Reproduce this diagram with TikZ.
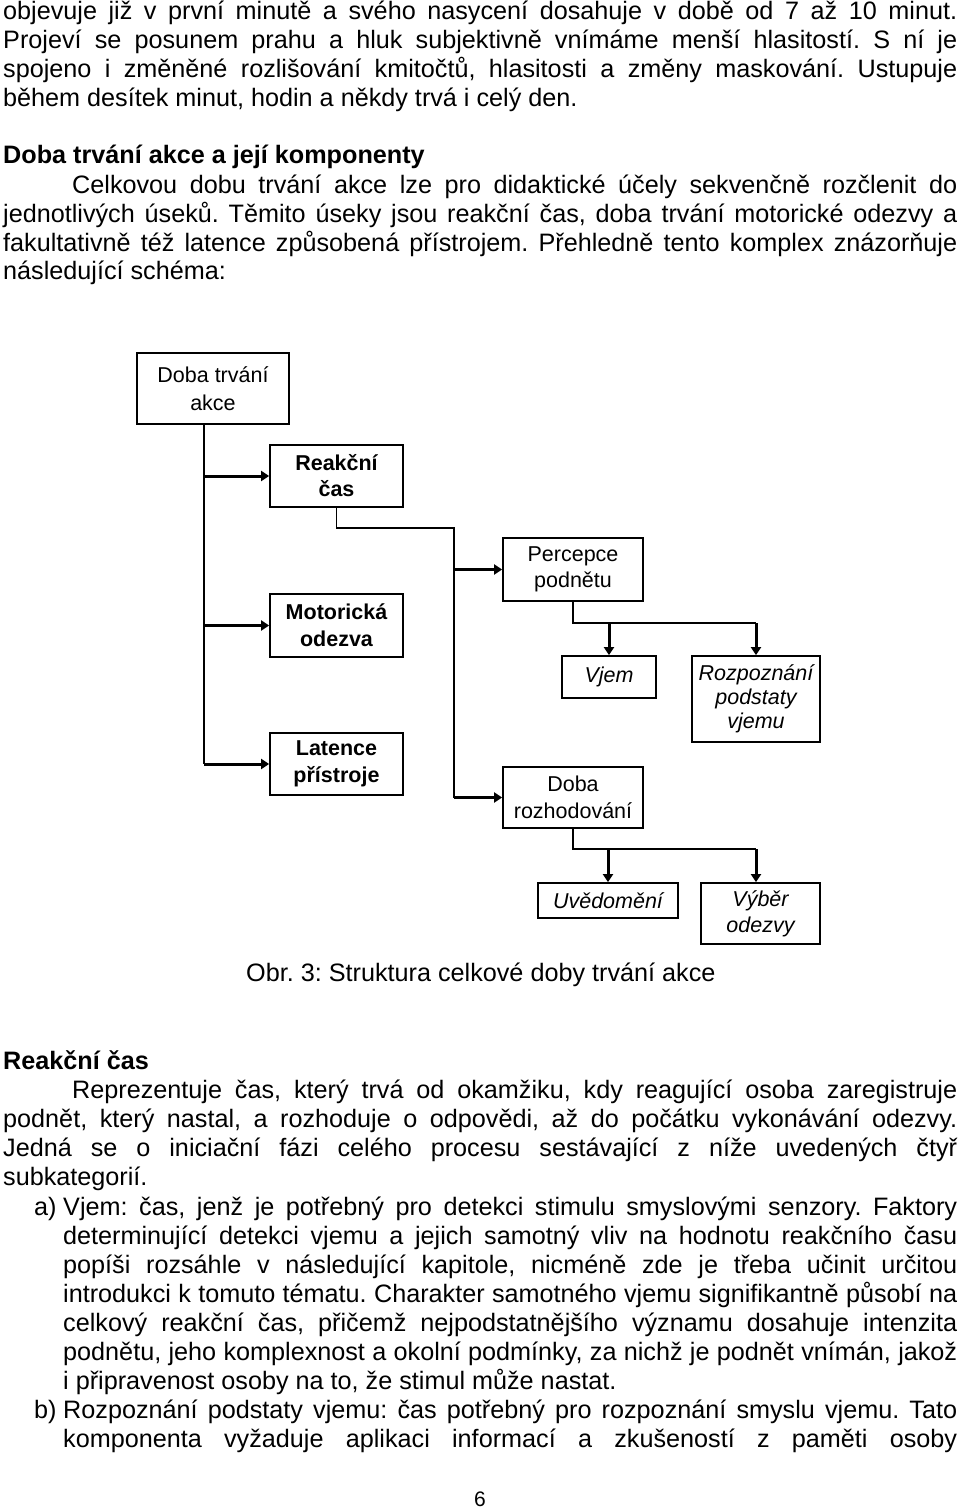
\documentclass[tikz,border=0pt]{standalone}
\usepackage{fontspec}
\setmainfont{Liberation Sans}
\usetikzlibrary{arrows.meta}
\frenchspacing
\begin{document}
\begin{tikzpicture}[x=1pt,y=-1pt,
  box/.style={draw,line width=1.8pt,inner sep=0pt,align=center,font=\fontsize{21.5}{26}\selectfont},
  conn/.style={line width=1.8pt},
  arr/.style={line width=3pt,-{Triangle[length=8pt,width=10pt]}},
  txt/.style={anchor=base west,inner sep=0pt,font=\fontsize{25.2}{29}\selectfont},
  head/.style={txt,font=\fontsize{25.2}{29}\selectfont\bfseries},
]
\useasboundingbox[fill=white] (0,0) rectangle (960,1509);

% ---------- text above the diagram ----------
\node[txt] (l1) at (3,20) {\makebox[954pt][s]{objevuje již v první minutě a svého nasycení dosahuje v době od 7 až 10 minut.}};
\node[txt] (l2) at (3,49) {\makebox[954pt][s]{Projeví se posunem prahu a hluk subjektivně vnímáme menší hlasitostí. S ní je}};
\node[txt] (l3) at (3,78) {\makebox[954pt][s]{spojeno i změněné rozlišování kmitočtů, hlasitosti a změny maskování. Ustupuje}};
\node[txt] (l4) at (3,107) {během desítek minut, hodin a někdy trvá i celý den.};

\node[head] (h1) at (3,164) {Doba trvání akce a její komponenty};
\node[txt] (m1) at (72,193) {\makebox[885pt][s]{Celkovou dobu trvání akce lze pro didaktické účely sekvenčně rozčlenit do}};
\node[txt] (m2) at (3,222) {\makebox[954pt][s]{jednotlivých úseků. Těmito úseky jsou reakční čas, doba trvání motorické odezvy a}};
\node[txt] (m3) at (3,251) {\makebox[954pt][s]{fakultativně též latence způsobená přístrojem. Přehledně tento komplex znázorňuje}};
\node[txt] (m4) at (3,279) {následující schéma:};

% ---------- diagram ----------
\node[box,minimum width=152pt,minimum height=71pt,font=\fontsize{21.5}{28}\selectfont] (doba) at (213,388.5) {Doba trvání\\akce};
\node[box,minimum width=133pt,minimum height=62pt,font=\fontsize{21.5}{26}\selectfont\bfseries] (reak) at (336.5,476) {Reakční\\čas};
\node[box,minimum width=133pt,minimum height=63pt,font=\fontsize{21.5}{27}\selectfont\bfseries] (mot) at (336.5,625.5) {Motorická\\odezva};
\node[box,minimum width=133pt,minimum height=62pt,font=\fontsize{21.5}{27}\selectfont\bfseries] (lat) at (336.5,764) {Latence\\přístroje};

\node[box,minimum width=140pt,minimum height=63pt] (perc) at (573,569.5) {Percepce\\podnětu};
\node[box,minimum width=94pt,minimum height=42pt,font=\fontsize{21.5}{26}\selectfont\itshape] (vjem) at (609,677) {Vjem};
\node[box,minimum width=128pt,minimum height=86pt,font=\fontsize{21.5}{24}\selectfont\itshape] (rozp) at (756,699) {Rozpoznání\\podstaty\\vjemu};

\node[box,minimum width=140pt,minimum height=61pt,font=\fontsize{21.5}{27}\selectfont] (rozh) at (573,797.5) {Doba\\rozhodování};
\node[box,minimum width=140pt,minimum height=35pt,font=\fontsize{21.5}{26}\selectfont\itshape] (uved) at (608,900.5) {Uvědomění};
\node[box,minimum width=119pt,minimum height=61pt,font=\fontsize{21.5}{26}\selectfont\itshape] (vyb) at (760.5,913.5) {Výběr\\odezvy};

% trunk from "Doba trvání akce"
\coordinate (t) at (204,0);
\draw[conn] (doba.south -| t) -- (t |- lat.west);
\draw[arr] (t |- reak.west) -- (reak.west);
\draw[arr] (t |- mot.west) -- (mot.west);
\draw[arr] (t |- lat.west) -- (lat.west);

% trunk from "Reakční čas"
\coordinate (u) at (454,0);
\coordinate (rj) at (336.5,528);
\draw[conn] (reak.south) -- (rj) -- (u |- rj) -- (u |- rozh.west);
\draw[arr] (u |- perc.west) -- (perc.west);
\draw[arr] (u |- rozh.west) -- (rozh.west);

% branches of "Percepce podnětu"
\coordinate (pj) at (573,623);
\draw[conn] (perc.south) -- (pj) -- (rozp.north |- pj);
\draw[arr] (vjem.north |- pj) -- (vjem.north);
\draw[arr] (rozp.north |- pj) -- (rozp.north);

% branches of "Doba rozhodování"
\coordinate (dj) at (573,849);
\draw[conn] (rozh.south) -- (dj) -- (rozp.north |- dj);
\draw[arr] (uved.north |- dj) -- (uved.north);
\draw[arr] (rozp.north |- dj) -- (rozp.north |- vyb.north);

% caption
\node[txt] (cap) at (246,981) {Obr. 3: Struktura celkové doby trvání akce};

% ---------- text below the diagram ----------
\node[head] (h2) at (3,1069) {Reakční čas};
\node[txt] (r1) at (72,1098) {\makebox[885pt][s]{Reprezentuje čas, který trvá od okamžiku, kdy reagující osoba zaregistruje}};
\node[txt] (r2) at (3,1127) {\makebox[954pt][s]{podnět, který nastal, a rozhoduje o odpovědi, až do počátku vykonávání odezvy.}};
\node[txt] (r3) at (3,1156) {\makebox[954pt][s]{Jedná se o iniciační fázi celého procesu sestávající z níže uvedených čtyř}};
\node[txt] (r4) at (3,1185) {subkategorií.};

\node[txt] (la) at (34,1215) {a)};
\node[txt] (a1) at (63,1215) {\makebox[894pt][s]{Vjem: čas, jenž je potřebný pro detekci stimulu smyslovými senzory. Faktory}};
\node[txt] (a2) at (63,1244) {\makebox[894pt][s]{determinující detekci vjemu a jejich samotný vliv na hodnotu reakčního času}};
\node[txt] (a3) at (63,1273) {\makebox[894pt][s]{popíši rozsáhle v následující kapitole, nicméně zde je třeba učinit určitou}};
\node[txt] (a4) at (63,1302) {\makebox[894pt][s]{introdukci k tomuto tématu. Charakter samotného vjemu signifikantně působí na}};
\node[txt] (a5) at (63,1331) {\makebox[894pt][s]{celkový reakční čas, přičemž nejpodstatnějšího významu dosahuje intenzita}};
\node[txt] (a6) at (63,1360) {\makebox[894pt][s]{podnětu, jeho komplexnost a okolní podmínky, za nichž je podnět vnímán, jakož}};
\node[txt] (a7) at (63,1389) {i připravenost osoby na to, že stimul může nastat.};

\node[txt] (lb) at (34,1418) {b)};
\node[txt] (b1) at (63,1418) {\makebox[894pt][s]{Rozpoznání podstaty vjemu: čas potřebný pro rozpoznání smyslu vjemu. Tato}};
\node[txt] (b2) at (63,1447) {\makebox[894pt][s]{komponenta vyžaduje aplikaci informací a zkušeností z paměti osoby}};

\node[anchor=base,inner sep=0pt,font=\fontsize{21}{25}\selectfont] (pg) at (480,1506) {6};
\end{tikzpicture}
\end{document}
